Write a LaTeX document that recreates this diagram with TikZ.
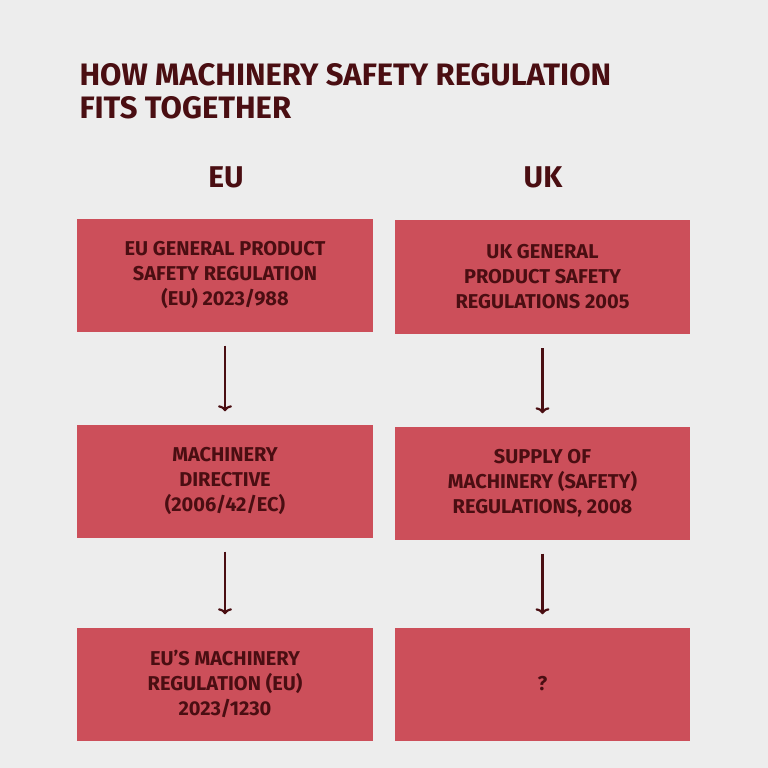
\documentclass[tikz,border=0pt]{standalone}
\usepackage{fontspec}
\setmainfont{Fira Sans}
\usetikzlibrary{positioning,arrows.meta}
\definecolor{bgcol}{HTML}{EDEDED}
\definecolor{boxcol}{HTML}{CC4F5A}
\definecolor{inkcol}{HTML}{4A0E12}
\tikzset{
  regbox/.style={fill=boxcol, minimum width=296pt, minimum height=113pt, align=center,
    text=inkcol, font=\fontsize{20}{25}\selectfont\bfseries},
  flowarrow/.style={draw=inkcol, line width=2.2pt, -{To[length=6pt,width=14pt]},
    shorten <=14pt, shorten >=13pt},
  colhead/.style={text=inkcol, font=\fontsize{30}{34}\selectfont\bfseries}
}
\begin{document}
\begin{tikzpicture}[x=1pt,y=-1pt]
    \useasboundingbox[fill=bgcol] (0,0) rectangle (768,768);

    %title
    \node[anchor=west, text=inkcol, align=left, font=\fontsize{31}{33}\selectfont\bfseries] (title) at (76,91)
      {HOW MACHINERY SAFETY REGULATION\\FITS TOGETHER};

    %column heads
    \node[colhead] (eu) at (226,177) {EU};
    \node[colhead] (uk) at (543,177) {UK};

    %EU column
    \node[regbox] (eua) at (225,275) {EU GENERAL PRODUCT\\SAFETY REGULATION\\(EU) 2023/988};
    \node[regbox] (eub) at (225,481) {MACHINERY\\DIRECTIVE\\(2006/42/EC)};
    \node[regbox] (euc) at (225,684) {EU’S MACHINERY\\REGULATION (EU)\\2023/1230};

    %UK column
    \node[regbox, minimum width=295pt, minimum height=114pt] (uka) at (542.5,277) {UK GENERAL\\PRODUCT SAFETY\\REGULATIONS 2005};
    \node[regbox, minimum width=295pt] (ukb) at (542.5,483) {SUPPLY OF\\MACHINERY (SAFETY)\\REGULATIONS, 2008};
    \node[regbox, minimum width=295pt] (ukc) at (542.5,684) {?};

    \draw[flowarrow] (eua) -- (eub);
    \draw[flowarrow] (eub) -- (euc);
    \draw[flowarrow] (uka) -- (ukb);
    \draw[flowarrow] (ukb) -- (ukc);

\end{tikzpicture}
\end{document}
